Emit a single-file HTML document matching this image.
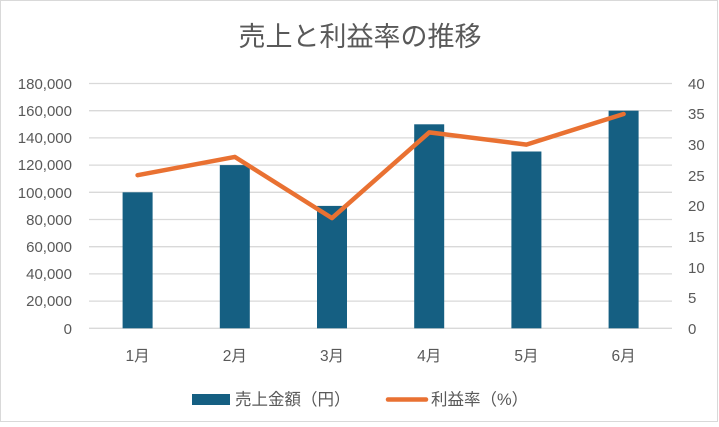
<!DOCTYPE html>
<html><head><meta charset="utf-8"><style>
body{margin:0;background:#fff}
svg text{font-family:"Liberation Sans","Noto Sans CJK JP",sans-serif;fill:#595959}
</style></head><body>
<svg width="719" height="422" viewBox="0 0 719 422" xmlns="http://www.w3.org/2000/svg">
<rect x="0.5" y="0.5" width="717" height="421" fill="#fff" stroke="#d9d9d9"/>
<text x="360" y="46" font-size="27" text-anchor="middle">売上と利益率の推移</text>
<g stroke="#d9d9d9" stroke-width="1.3">
<line x1="89" x2="672" y1="83.5" y2="83.5"/><line x1="89" x2="672" y1="110.7" y2="110.7"/>
<line x1="89" x2="672" y1="137.9" y2="137.9"/><line x1="89" x2="672" y1="165.1" y2="165.1"/>
<line x1="89" x2="672" y1="192.3" y2="192.3"/><line x1="89" x2="672" y1="219.5" y2="219.5"/>
<line x1="89" x2="672" y1="246.7" y2="246.7"/><line x1="89" x2="672" y1="273.9" y2="273.9"/>
<line x1="89" x2="672" y1="301.1" y2="301.1"/><line x1="89" x2="672" y1="328.3" y2="328.3"/>
</g>
<g font-size="15" text-anchor="end">
<text x="72" y="89">180,000</text><text x="72" y="116">160,000</text><text x="72" y="143">140,000</text>
<text x="72" y="170">120,000</text><text x="72" y="198">100,000</text><text x="72" y="225">80,000</text>
<text x="72" y="252">60,000</text><text x="72" y="279">40,000</text><text x="72" y="306">20,000</text>
<text x="72" y="334">0</text>
</g>
<g font-size="15">
<text x="688" y="89">40</text><text x="688" y="119">35</text><text x="688" y="150">30</text>
<text x="688" y="181">25</text><text x="688" y="211">20</text><text x="688" y="242">15</text>
<text x="688" y="273">10</text><text x="688" y="303">5</text><text x="688" y="334">0</text>
</g>
<g fill="#155f82">
<rect x="122.6" y="192.3" width="30" height="136"/>
<rect x="219.8" y="165.1" width="30" height="163.2"/>
<rect x="317" y="205.9" width="30" height="122.4"/>
<rect x="414.2" y="124.3" width="30" height="204"/>
<rect x="511.4" y="151.5" width="30" height="176.8"/>
<rect x="608.6" y="110.7" width="30" height="217.6"/>
</g>
<polyline fill="none" stroke="#e97132" stroke-width="4.5" stroke-linejoin="round" stroke-linecap="round"
points="137.6,175.2 234.8,156.9 332,218.1 429.2,132.4 526.4,144.6 623.6,114"/>
<g font-size="15.5" text-anchor="middle">
<text x="137.6" y="361">1月</text><text x="234.8" y="361">2月</text><text x="332" y="361">3月</text>
<text x="429.2" y="361">4月</text><text x="526.4" y="361">5月</text><text x="623.6" y="361">6月</text>
</g>
<rect x="192" y="394" width="38" height="11" fill="#155f82"/>
<text x="235" y="405" font-size="16.5">売上金額（円）</text>
<line x1="388" x2="426" y1="399.5" y2="399.5" stroke="#e97132" stroke-width="4.5" stroke-linecap="round"/>
<text x="431" y="405" font-size="16.5">利益率（%）</text>
</svg>
</body></html>
